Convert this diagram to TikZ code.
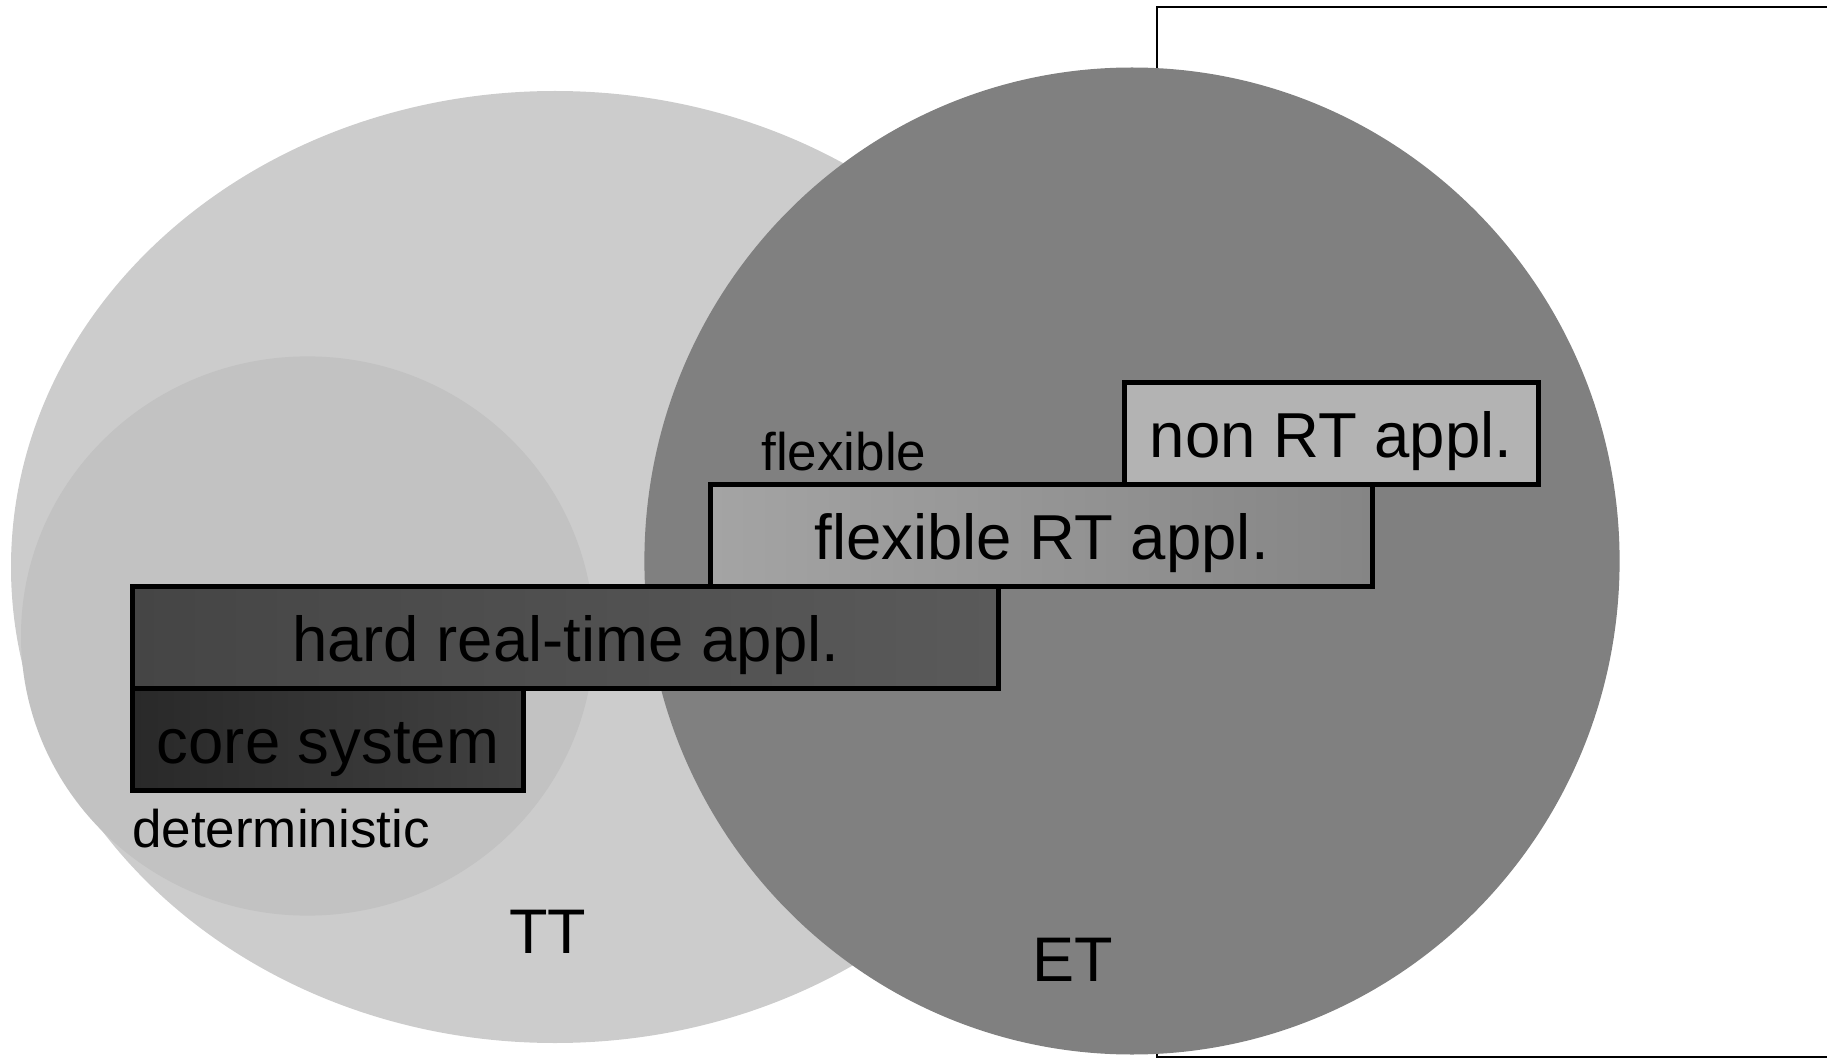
\documentclass[tikz,border=0pt]{standalone}
\usepackage{fontspec}
\setmainfont{Liberation Sans}
\definecolor{ttfill}{HTML}{CCCCCC}
\definecolor{detfill}{HTML}{C2C2C2}
\definecolor{etfill}{HTML}{808080}
\definecolor{nonrtfill}{HTML}{B3B3B3}
\definecolor{flexleft}{HTML}{A4A4A4}
\definecolor{flexright}{HTML}{858585}
\definecolor{hardleft}{HTML}{454545}
\definecolor{hardright}{HTML}{5A5A5A}
\definecolor{coreleft}{HTML}{292929}
\definecolor{coreright}{HTML}{414141}
\begin{document}
\begin{tikzpicture}[x=0.5pt,y=-0.5pt,
  appbox/.style={draw=black, line width=2.5pt, minimum height=51pt,
    inner sep=0pt, text height=24.1pt, text depth=0pt,
    font=\fontsize{31.75}{36}\selectfont},
  lbl/.style={anchor=base west, inner sep=0pt},
  smalllbl/.style={lbl, font=\fontsize{26.5}{30}\selectfont},
  biglbl/.style={lbl, font=\fontsize{31.5}{36}\selectfont}]
\useasboundingbox (0,0) rectangle (1827,1059);
\clip (0,0) rectangle (1827,1059);

% open frame behind the ET region
\draw[line width=1pt] (1157,7) rectangle (1860,1057);

% time-triggered domain and its deterministic core
\fill[ttfill] (555,567) ellipse [x radius=272pt, y radius=238pt];
\fill[detfill] (307.5,636) ellipse [x radius=143.25pt, y radius=139.8pt];

% event-triggered domain
\fill[etfill] (1132,561) ellipse [x radius=243.8pt, y radius=246.75pt];

% application layers
\node[appbox, fill=nonrtfill, minimum width=206.8pt] (nonrt) at (1331.2,433.5) {non RT appl.};
\node[appbox, left color=flexleft, right color=flexright, minimum width=330.9pt] (flexrt) at (1041.7,535.5) {flexible RT appl.};
\node[appbox, left color=hardleft, right color=hardright, minimum width=432.9pt] (hardrt) at (565.7,637.5) {hard real-time appl.};
\node[appbox, left color=coreleft, right color=coreright, minimum width=195.2pt] (core) at (328,739.5) {core system};

% labels
\node[smalllbl] (flexlbl) at (761,470.7) {flexible};
\node[smalllbl] (detlbl) at (131.7,847) {deterministic};
\node[biglbl] (ttlbl) at (509,953) {TT};
\node[biglbl] (etlbl) at (1032,981) {ET};
\end{tikzpicture}
\end{document}
